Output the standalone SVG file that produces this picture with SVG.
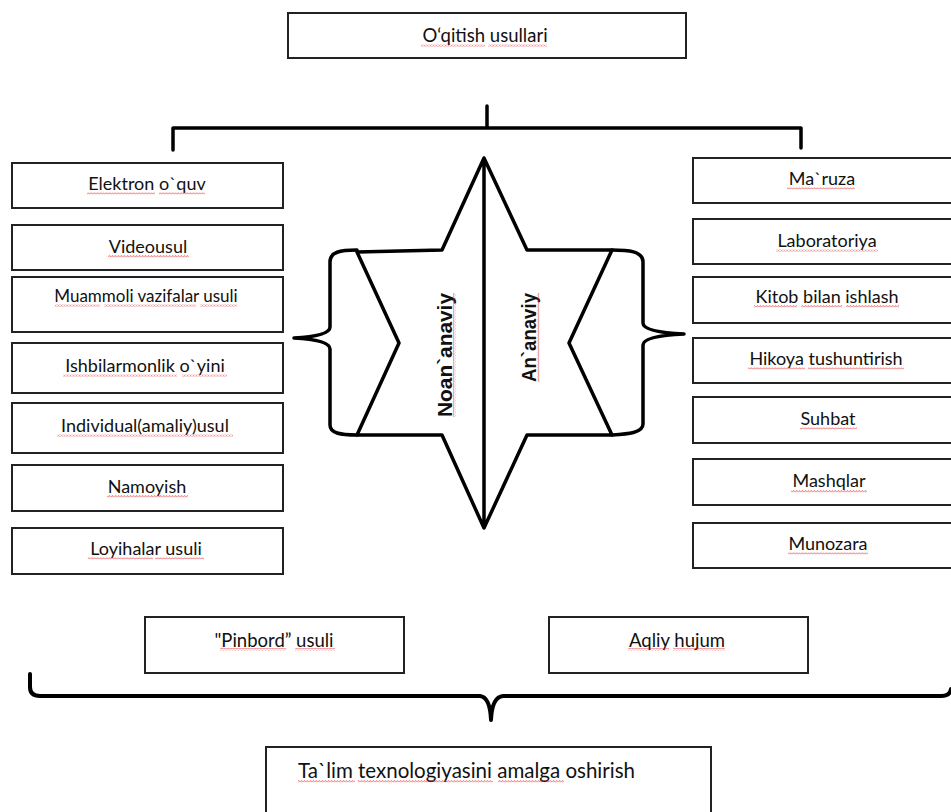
<svg xmlns="http://www.w3.org/2000/svg" width="951" height="812" viewBox="0 0 951 812">
<style>
.box{fill:#fff;stroke:#222;stroke-width:2}
.lbl{font-family:Lato,'Open Sans','Liberation Sans',sans-serif;font-size:18px;fill:#111;text-anchor:middle}
.sm{font-size:17px}
.rot{font-family:'Liberation Sans',Arial,sans-serif;font-size:20px;font-weight:bold;fill:#111;text-anchor:middle}
.sq{fill:url(#sqh)}
.sqv{fill:url(#sqv)}
.thick{fill:none;stroke:#000;stroke-width:3.5;stroke-linejoin:round;stroke-linecap:round}
</style>
<defs>
<pattern id="sqh" patternUnits="userSpaceOnUse" width="3" height="2.5"><path d="M0,2 L1.5,0.5 L3,2" fill="none" stroke="#e02020" stroke-width="0.7"/></pattern>
<pattern id="sqv" patternUnits="userSpaceOnUse" width="2.5" height="3"><path d="M2,0 L0.5,1.5 L2,3" fill="none" stroke="#e02020" stroke-width="0.7"/></pattern>
</defs>
<rect width="951" height="812" fill="#fff"/>

<g id="connectors">
<path class="thick" d="M487,106 L487,128 M173,150 L173,128 L801,128 L801,148"/>
<path class="thick" d="M357,250 C340,250 330,252 330,262 L330,327 Q330,336 294,338 Q330,340 330,349 L330,425 C330,433 340,435 357,435"/>
<path class="thick" d="M612,250 C628,250 643,251 643,262 L643,323 Q643,332 684,334 Q643,336 643,345 L643,424 C643,433 628,434 612,435"/>
<path class="thick" style="stroke-width:4" d="M30,674 L30,687 Q30,696 40,696 L480,696 Q490,697 491,720 Q492,697 503,696 L941,696 Q950,696 951,689"/>
</g>

<g id="title"><rect class="box" x="288" y="13" width="398" height="45"/><text class="lbl" x="485" y="42" style="font-size:18.5px">O‘qitish usullari</text>
<rect class="sq" x="421" y="44" width="64" height="2.5"/><rect class="sq" x="488" y="44" width="59" height="2.5"/></g>

<g id="star">
<path class="thick" d="M484,158 L527,250 L612,250 L569,343 L612,435 L527,435 L484,528 L442,435 L357,435 L399,343 L357,252 L442,250 Z M484,158 L484,528"/>
<text class="rot" transform="translate(452,355) rotate(-90)" textLength="124" lengthAdjust="spacingAndGlyphs">Noan`anaviy</text>
<rect class="sqv" x="453" y="293" width="2.5" height="124"/>
<text class="rot" transform="translate(536,337.5) rotate(-90)" textLength="89" lengthAdjust="spacingAndGlyphs">An`anaviy</text>
<rect class="sqv" x="537" y="293" width="2.5" height="89"/>
</g>

<g id="elektron"><rect class="box" x="12" y="163" width="271" height="45"/><text class="lbl" x="147" y="190">Elektron o`quv</text>
<rect class="sq" x="87" y="192" width="68" height="2.5"/><rect class="sq" x="159" y="192" width="46" height="2.5"/></g>
<g id="videousul"><rect class="box" x="12" y="225" width="271" height="45"/><text class="lbl" x="148" y="253">Videousul</text>
<rect class="sq" x="108" y="255" width="81" height="2.5"/></g>
<g id="muammoli"><rect class="box" x="12" y="277" width="271" height="55"/><text class="lbl sm" x="146" y="302">Muammoli vazifalar usuli</text>
<rect class="sq" x="55" y="304" width="45" height="2.5"/><rect class="sq" x="104" y="304" width="92" height="2.5"/><rect class="sq" x="200" y="304" width="37" height="2.5"/></g>
<g id="ishbilarmonlik"><rect class="box" x="12" y="343" width="271" height="50"/><text class="lbl" x="145" y="372">Ishbilarmonlik o`yini</text>
<rect class="sq" x="63" y="374" width="114" height="2.5"/><rect class="sq" x="182" y="374" width="45" height="2.5"/></g>
<g id="individual"><rect class="box" x="12" y="403" width="271" height="50"/><text class="lbl" x="145" y="432">Individual(amaliy)usul</text>
<rect class="sq" x="57" y="434" width="176" height="2.5"/></g>
<g id="namoyish"><rect class="box" x="12" y="465" width="271" height="46"/><text class="lbl" x="147" y="493">Namoyish</text>
<rect class="sq" x="107" y="495" width="81" height="2.5"/></g>
<g id="loyihalar"><rect class="box" x="12" y="528" width="271" height="46"/><text class="lbl" x="146" y="555">Loyihalar usuli</text>
<rect class="sq" x="88" y="557" width="65" height="2.5"/><rect class="sq" x="155" y="557" width="49" height="2.5"/></g>

<g id="maruza"><rect class="box" x="693" y="158" width="268" height="45"/><text class="lbl" x="822" y="185">Ma`ruza</text>
<rect class="sq" x="787" y="187" width="68" height="2.5"/></g>
<g id="laboratoriya"><rect class="box" x="693" y="219" width="268" height="45"/><text class="lbl" x="827" y="247">Laboratoriya</text>
<rect class="sq" x="776" y="249" width="102" height="2.5"/></g>
<g id="kitob"><rect class="box" x="693" y="277" width="268" height="46"/><text class="lbl" x="827" y="303">Kitob bilan ishlash</text>
<rect class="sq" x="754" y="305" width="43" height="2.5"/><rect class="sq" x="801" y="305" width="41" height="2.5"/><rect class="sq" x="846" y="305" width="53" height="2.5"/></g>
<g id="hikoya"><rect class="box" x="693" y="338" width="268" height="45"/><text class="lbl" x="826" y="365">Hikoya tushuntirish</text>
<rect class="sq" x="748" y="367" width="57" height="2.5"/><rect class="sq" x="808" y="367" width="96" height="2.5"/></g>
<g id="suhbat"><rect class="box" x="693" y="397" width="268" height="46"/><text class="lbl" x="828" y="425">Suhbat</text>
<rect class="sq" x="800" y="427" width="57" height="2.5"/></g>
<g id="mashqlar"><rect class="box" x="693" y="459" width="268" height="46"/><text class="lbl" x="829" y="487">Mashqlar</text>
<rect class="sq" x="791" y="490" width="76" height="2.5"/></g>
<g id="munozara"><rect class="box" x="693" y="523" width="268" height="45"/><text class="lbl" x="828" y="550">Munozara</text>
<rect class="sq" x="788" y="552" width="80" height="2.5"/></g>

<g id="pinbord"><rect class="box" x="145" y="617" width="259" height="56"/><text class="lbl" x="274" y="647" style="font-size:18.5px">"Pinbord” usuli</text>
<rect class="sq" x="220" y="648" width="66" height="2.5"/><rect class="sq" x="295" y="648" width="40" height="2.5"/></g>
<g id="aqliy"><rect class="box" x="549" y="617" width="259" height="56"/><text class="lbl" x="677" y="647" style="font-size:18.5px">Aqliy hujum</text>
<rect class="sq" x="628" y="648" width="41" height="2.5"/><rect class="sq" x="673" y="648" width="52" height="2.5"/></g>

<g id="talim"><rect class="box" x="266" y="747" width="445" height="80"/><text class="lbl" x="298" y="778" style="text-anchor:start;font-size:20.5px">Ta`lim texnologiyasini amalga oshirish</text>
<rect class="sq" x="298" y="780" width="57" height="2.5"/><rect class="sq" x="358" y="780" width="135" height="2.5"/><rect class="sq" x="498" y="780" width="66" height="2.5"/></g>
</svg>
